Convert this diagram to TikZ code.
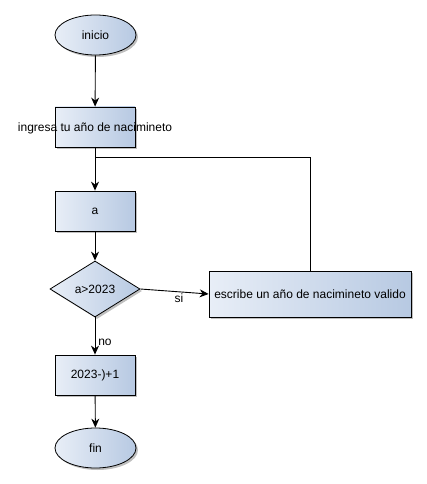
\documentclass[tikz,border=0pt]{standalone}
\usepackage{fontspec}
\setmainfont{Liberation Sans}
\usetikzlibrary{shapes.geometric,arrows.meta,shadows}
\definecolor{gradleft}{RGB}{232,238,247}
\definecolor{gradright}{RGB}{183,201,226}
\tikzset{
  base/.style={draw=black, line width=0.8pt, left color=gradleft, right color=gradright,
    drop shadow={shadow xshift=2pt, shadow yshift=-2pt, fill=black, opacity=0.25}, font=\fontsize{12}{14}\selectfont, inner sep=0pt},
  boxnode/.style={base, rectangle, minimum width=80pt, minimum height=40pt},
  termnode/.style={base, ellipse, minimum width=81pt, minimum height=40pt},
  decnode/.style={base, diamond, minimum width=90pt, minimum height=56pt},
  conn/.style={line width=0.9pt, -{Stealth[length=9pt,width=8pt]}},
  plainconn/.style={line width=0.9pt},
  lbl/.style={font=\fontsize{12}{14}\selectfont, inner sep=0pt}
}
\begin{document}
\begin{tikzpicture}[x=1pt,y=-1pt]
\useasboundingbox (0,0) rectangle (427,484);
\node[termnode] (ini) at (95.5,35) {inicio};
\node[boxnode] (ing) at (95,127) {};
\node[lbl] (ingt) at (95,128) {ingresa tu año de nacimineto};
\node[boxnode] (a) at (95,211) {a};
\node[decnode] (dec) at (95,289) {a>2023};
\node[boxnode, minimum width=202pt, minimum height=46pt] (esc) at (310,294) {escribe un año de nacimineto valido};
\node[boxnode] (calc) at (95,375) {2023-)+1};
\node[termnode] (fin) at (95.5,448) {fin};
\coordinate (j) at (95,157);
\draw[conn] (ini) -- (ing);
\draw[conn] (ing) -- (a);
\draw[plainconn] (j) -| (esc.north);
\draw[conn] (a) -- (dec);
\draw[conn] (dec.east) -- (esc.west);
\node[lbl] (si) at (179,298) {si};
\draw[conn] (dec.south) -- (calc.north);
\node[lbl] (no) at (105,342) {no};
\draw[conn] (calc) -- (fin);
\end{tikzpicture}
\end{document}
